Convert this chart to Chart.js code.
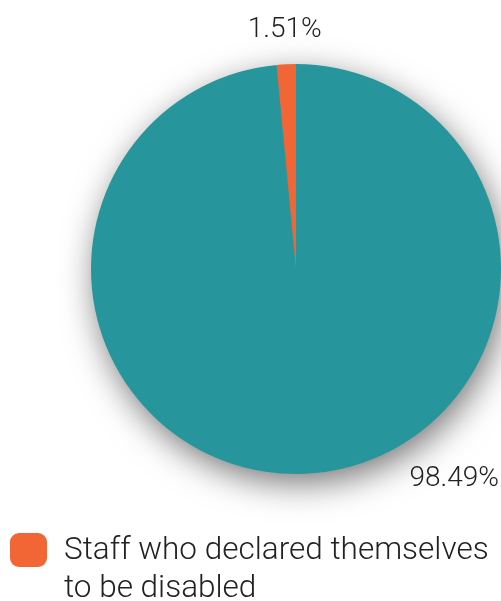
<!DOCTYPE html>
<html>
<head>
<meta charset="utf-8">
<script src="https://cdn.jsdelivr.net/npm/chart.js@4/dist/chart.umd.min.js"></script>
<style>
  html, body { margin: 0; padding: 0; background: #fff; }
  #wrap { position: relative; width: 501px; height: 601px; overflow: hidden; }
  #legend { position: absolute; left: 10px; top: 530px; display: flex; align-items: flex-start;
            font-family: Roboto, sans-serif; font-weight: 300; font-size: 31.5px; line-height: 38px; color: #222; white-space: nowrap; }
  #legend .box { width: 37px; height: 34px; border-radius: 9px; background: #F26535; margin-top: 3px; margin-right: 17px; flex: none; }
</style>
</head>
<body>
<div id="wrap">
  <canvas id="pieChart" width="501" height="601"></canvas>
  <div id="legend"><div class="box"></div><div class="txt"></div></div>
</div>
<script>
const categories = ['Staff who did not declare themselves to be disabled', 'Staff who declared themselves to be disabled'];
const values = [98.49, 1.51];
const colors = ['#27969C', '#F26535'];

document.getElementById('legend').querySelector('.txt').innerHTML = 'Staff who declared themselves<br>to be disabled';

// soft shadow under the pie
const shadowPlugin = {
    id: 'pieShadow',
    beforeDatasetsDraw(chart) {
        const arc = chart.getDatasetMeta(0).data[0];
        if (!arc) return;
        const ctx = chart.ctx;
        ctx.save();
        ctx.shadowColor = 'rgba(0,0,0,0.55)';
        ctx.shadowBlur = 34;
        ctx.shadowOffsetX = 4;
        ctx.shadowOffsetY = 10;
        ctx.fillStyle = colors[0];
        ctx.beginPath();
        ctx.arc(arc.x, arc.y, arc.outerRadius - 1, 0, Math.PI * 2);
        ctx.fill();
        ctx.restore();
    }
};

// percentage labels outside the slices
const labelPlugin = {
    id: 'pctLabels',
    afterDatasetsDraw(chart, args, opts) {
        const meta = chart.getDatasetMeta(0);
        const ctx = chart.ctx;
        const total = values.reduce((a, b) => a + b, 0);
        ctx.save();
        ctx.font = '300 28px Roboto, sans-serif';
        ctx.fillStyle = '#222';
        ctx.textAlign = 'center';
        ctx.textBaseline = 'middle';
        meta.data.forEach((arc, i) => {
            const p = opts.place[i];
            const ang = p.angle == null ? (arc.startAngle + arc.endAngle) / 2 : p.angle * Math.PI / 180 - Math.PI / 2;
            const r = arc.outerRadius + p.dist;
            const x = arc.x + Math.cos(ang) * r;
            const y = arc.y + Math.sin(ang) * r;
            ctx.fillText((values[i] / total * 100).toFixed(2) + '%', x, y);
        });
        ctx.restore();
    }
};

const ctx = document.getElementById('pieChart').getContext('2d');
new Chart(ctx, {
    type: 'pie',
    data: {
        labels: categories,
        datasets: [{
            data: values,
            backgroundColor: colors,
            borderWidth: 0
        }]
    },
    options: {
        responsive: false,
        animation: false,
        layout: { padding: { left: 91, right: 0, top: 64, bottom: 127 } },
        plugins: {
            legend: { display: false },
            tooltip: { enabled: false },
            pctLabels: { place: [{ angle: 143, dist: 58 }, { angle: null, dist: 34 }] }
        }
    },
    plugins: [shadowPlugin, labelPlugin]
});
</script>
</body>
</html>
